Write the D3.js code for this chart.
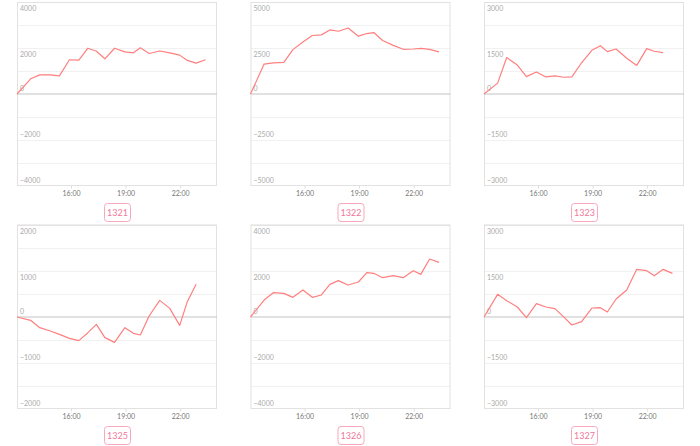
<!DOCTYPE html>
<html>
<head>
<meta charset="utf-8">
<script src="https://cdn.jsdelivr.net/npm/d3@7"></script>
<style>
  html, body { margin: 0; padding: 0; background: #fff; }
  svg { display: block; font-family: Lato, "Open Sans", sans-serif; }
</style>
</head>
<body>
<svg id="chart" width="700" height="446"></svg>
<script>
// ---- data ----
const panelNames = ["1321", "1322", "1323", "1325", "1326", "1327"];
const yMaxes = [4000, 5000, 3000, 2000, 4000, 3000];
const times = ["13:00","13:45","14:15","14:50","15:20","15:53","16:24","16:54","17:22","17:50",
               "18:22","18:56","19:24","19:47","20:16","20:51","21:24","21:57","22:22","22:51","23:22"];
const xTickLabels = ["16:00", "19:00", "22:00"];
const s1321 = [0, 660, 830, 830, 790, 1490, 1470, 1990, 1860, 1530, 1990, 1830, 1790, 2010, 1760, 1870, 1790, 1690, 1460, 1340, 1490];
const s1322 = [0, 1625, 1696, 1714, 2411, 2821, 3179, 3214, 3482, 3411, 3589, 3143, 3286, 3339, 2911, 2643, 2429, 2446, 2482, 2429, 2286];
const s1323 = [0, 354, 1189, 943, 568, 718, 557, 589, 546, 557, 1018, 1425, 1575, 1382, 1468, 1168, 932, 1479, 1393, 1350];
const s1325 = [0, -72, -232, -304, -377, -464, -514, -341, -159, -449, -551, -232, -355, -391, 22, 362, 188, -181, 333, 710];
const s1326 = [0, 739, 1058, 1029, 855, 1174, 855, 957, 1420, 1580, 1391, 1522, 1928, 1899, 1710, 1797, 1710, 2014, 1855, 2522, 2377];
const s1327 = [0, 739, 533, 326, -22, 435, 326, 272, 11, -261, -152, 293, 304, 163, 587, 880, 1554, 1511, 1348, 1554, 1424];
const allSeries = [s1321, s1322, s1323, s1325, s1326, s1327];

// ---- layout ----
const parse = d3.timeParse("%H:%M");
const plotW = 200, plotH = 184;
const colX = [17, 250.5, 484];
const rowY = [2, 225];

const svg = d3.select("#chart");

panelNames.forEach((name, i) => {
  const col = i % 3, row = Math.floor(i / 3);
  const g = svg.append("g").attr("transform", `translate(${colX[col]},${rowY[row]})`);
  const yMax = yMaxes[i];
  const start = parse("13:00");
  const x = d3.scaleTime().domain([start, d3.timeHour.offset(start, 11)]).range([0, plotW]);
  const y = d3.scaleLinear().domain([-yMax, yMax]).range([plotH, 0]);

  // grid lines (8 intervals)
  const grid = d3.range(-4, 5).map(k => k * yMax / 4);
  g.selectAll("line.grid").data(grid.filter(v => v !== 0 && Math.abs(v) !== yMax)).enter()
    .append("line").attr("class", "grid")
    .attr("x1", 0).attr("x2", plotW)
    .attr("y1", d => y(d) + 0.5).attr("y2", d => y(d) + 0.5)
    .attr("stroke", "#f1f1f1").attr("stroke-width", 1);

  // frame
  g.append("rect").attr("x", 0.5).attr("y", 0.5).attr("width", plotW - 1).attr("height", plotH - 1)
    .attr("fill", "none").attr("stroke", "#e2e2e2").attr("stroke-width", 1);

  // zero line
  g.append("line").attr("x1", 0).attr("x2", plotW)
    .attr("y1", y(0)).attr("y2", y(0))
    .attr("stroke", "#c4c4c4").attr("stroke-width", 1.2);

  // y labels
  const labels = d3.range(-2, 3).map(k => k * yMax / 2);
  g.selectAll("text.ylab").data(labels).enter()
    .append("text").attr("class", "ylab")
    .attr("x", 3)
    .attr("y", d => d > 0 ? y(d) + 8.5 : y(d) - 3)
    .attr("font-size", 7).attr("fill", "#aaa")
    .text(d => d3.format("d")(d));

  // x axis ticks and labels
  const xt = xTickLabels.map(t => parse(t));
  g.selectAll("line.xt").data(xt).enter().append("line").attr("class", "xt")
    .attr("x1", d => x(d)).attr("x2", d => x(d))
    .attr("y1", plotH).attr("y2", plotH + 2.5)
    .attr("stroke", "#ddd");
  g.selectAll("text.xlab").data(xTickLabels).enter()
    .append("text").attr("class", "xlab")
    .attr("x", d => x(parse(d))).attr("y", plotH + 10)
    .attr("text-anchor", "middle")
    .attr("font-size", 7).attr("fill", "#777")
    .text(d => d);

  // series line
  const vals = allSeries[i];
  const pts = vals.map((v, k) => ({ t: parse(times[k]), v }));
  const line = d3.line().x(d => x(d.t)).y(d => y(d.v));
  g.append("path").datum(pts)
    .attr("d", line)
    .attr("fill", "none")
    .attr("stroke", "#ff7f7f")
    .attr("stroke-width", 1.2)
    .attr("stroke-linejoin", "round");

  // name box
  const bw = 26, bh = 18;
  g.append("rect")
    .attr("x", plotW / 2 - bw / 2 + 0.5).attr("y", plotH + 17.5)
    .attr("width", bw).attr("height", bh).attr("rx", 3)
    .attr("fill", "#fff").attr("stroke", "#f7a8bd").attr("stroke-width", 1);
  g.append("text")
    .attr("x", plotW / 2 + 0.5).attr("y", plotH + 29.5)
    .attr("text-anchor", "middle")
    .attr("font-size", 9).attr("fill", "#f2779a")
    .text(name);

  // separator
  g.append("line").attr("x1", 0).attr("x2", plotW)
    .attr("y1", plotH + 38.5).attr("y2", plotH + 38.5)
    .attr("stroke", "#eee");
});
</script>
</body>
</html>
